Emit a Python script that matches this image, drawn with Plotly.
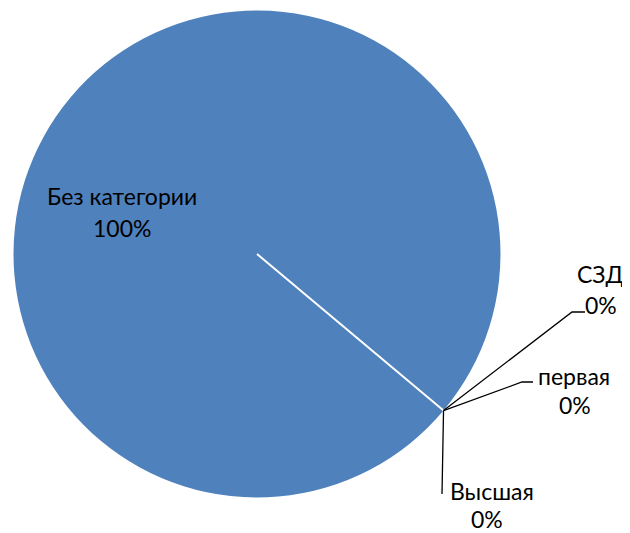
import math
import plotly.graph_objects as go

categories = ["Без категории", "Высшая", "первая", "СЗД"]
values = [100, 0, 0, 0]

W, H = 630, 533
OFF = 8  # page body margin in the browser
# pie geometry (screen pixels)
cx, cy, R = 257, 254, 243.5
start_angle = 130  # degrees clockwise from 12 o'clock

total = sum(values)
pcts = [f"{round(v / total * 100)}%" for v in values]


def px(x):
    return (x - OFF) / W


def py(y):
    return 1 - (y - OFF) / H


fig = go.Figure(go.Pie(
    labels=categories, values=values, sort=False, direction="clockwise",
    rotation=start_angle,
    marker=dict(colors=["#4F81BD", "#C0504D", "#9BBB59", "#8064A2"],
                line=dict(width=0)),
    textinfo="none", hoverinfo="label+percent", showlegend=False,
    domain=dict(x=[px(cx - R), px(cx + R)], y=[py(cy + R), py(cy - R)]),
))

# boundary point on the rim
a = math.radians(start_angle)
ex = cx + R * math.sin(a)
ey = cy - R * math.cos(a)

shapes = [dict(type="line", xref="paper", yref="paper",
               x0=px(cx), y0=py(cy), x1=px(ex), y1=py(ey),
               line=dict(color="white", width=2))]

# leader lines for zero slices: bend/end points
leaders = {
    "СЗД": [(572, 312), (585, 312)],
    "первая": [(522, 382), (533, 382)],
    "Высшая": [(442, 494)],
}
for name, pts in leaders.items():
    path = f"M {px(ex)} {py(ey)}"
    for (x, y) in pts:
        path += f" L {px(x)} {py(y)}"
    shapes.append(dict(type="path", xref="paper", yref="paper", path=path,
                       line=dict(color="black", width=1.3)))

# (name line centre, percent line centre)
label_pos = {
    "Без категории": ((121.5, 196), (121.5, 228)),
    "СЗД": ((600, 274), (601, 305)),
    "первая": ((574, 376), (575, 405)),
    "Высшая": ((492, 491), (487, 519)),
}
font = dict(family="Lato, Carlito, Calibri, sans-serif", size=23, color="black")
annotations = []
for name, pct in zip(categories, pcts):
    (x1, y1), (x2, y2) = label_pos[name]
    for txt, x, y in ((name, x1, y1), (pct, x2, y2)):
        annotations.append(dict(x=px(x), y=py(y), xref="paper", yref="paper",
                                text=txt, showarrow=False, font=font,
                                xanchor="center", yanchor="middle", borderpad=0))

fig.update_layout(width=W, height=H, margin=dict(l=0, r=0, t=0, b=0),
                  paper_bgcolor="white", plot_bgcolor="white",
                  shapes=shapes, annotations=annotations)
fig.write_html("out.html")
